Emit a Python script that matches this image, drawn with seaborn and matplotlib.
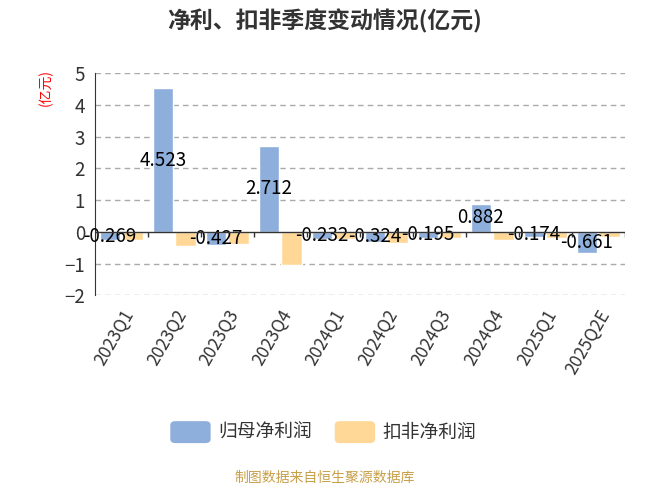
import matplotlib.pyplot as plt
import pandas as pd
import seaborn as sns
from matplotlib.patches import FancyBboxPatch

quarters = ["2023Q1", "2023Q2", "2023Q3", "2023Q4", "2024Q1",
            "2024Q2", "2024Q3", "2024Q4", "2025Q1", "2025Q2E"]
net_profit = [-0.269, 4.523, -0.427, 2.712, -0.232, -0.324, -0.195, 0.882, -0.174, -0.661]
deducted_profit = [-0.26, -0.44, -0.39, -1.04, -0.22, -0.34, -0.2, -0.26, -0.18, -0.16]
series_names = ["归母净利润", "扣非净利润"]
colors = ["#8eaedb", "#ffd898"]

df = pd.DataFrame({
    "季度": quarters * 2,
    "值": net_profit + deducted_profit,
    "类型": [series_names[0]] * len(quarters) + [series_names[1]] * len(quarters),
})

sns.set_style("white")
plt.rcParams["font.family"] = ["Noto Sans CJK SC", "DejaVu Sans"]

fig = plt.figure(figsize=(6.5, 4.88), dpi=100)
ax = fig.add_axes([0.146, 0.395, 0.815, 0.455])

sns.barplot(data=df, x="季度", y="值", hue="类型", palette=colors,
            width=0.85, gap=0.1, ax=ax, legend=False, saturation=1)

# labels at bar centres
for cont in ax.containers[:1]:
    for bar, v in zip(cont, net_profit):
        ax.text(bar.get_x() + bar.get_width() / 2, v / 2, f"{v:g}",
                ha="center", va="center", fontsize=13.5, color="black")

ax.set_ylim(-2, 5)
ax.set_xlim(-0.5, len(quarters) - 0.5)
ax.set_yticks(range(-2, 6))
for y in range(-2, 6):
    if y != 0:
        ax.axhline(y, color="#aaaaaa", lw=1, ls=(0, (4, 3)), zorder=0)
ax.axhline(0, color="#333333", lw=1, zorder=3)
ax.vlines([i + 0.5 for i in range(-1, len(quarters))], -0.15, 0,
          color="#333333", lw=1, zorder=3)

for s in ["top", "right", "bottom"]:
    ax.spines[s].set_visible(False)
ax.spines["left"].set_color("#333333")
ax.tick_params(axis="y", length=5, color="#333333", labelsize=13.5, labelcolor="#333333", pad=2)
ax.tick_params(axis="x", length=0, labelsize=12.5, labelcolor="#333333", pad=8)
plt.setp(ax.get_xticklabels(), rotation=60, ha="right", rotation_mode="anchor")
ax.set_xlabel("")
ax.set_ylabel("")

fig.text(0.07, 0.82, "(亿元)", color="red", fontsize=10, rotation=90, ha="center", va="center")
fig.text(0.5, 0.957, "净利、扣非季度变动情况(亿元)", fontsize=16.5, fontweight="bold",
         color="#333333", ha="center", va="center")
fig.text(0.5, 0.02, "制图数据来自恒生聚源数据库", fontsize=10, color="#c8a04a",
         ha="center", va="center")

# legend
for x0, name, c in zip([0.262, 0.515], series_names, colors):
    fig.patches.append(FancyBboxPatch((x0, 0.092), 0.062, 0.045,
                                      boxstyle="round,pad=0,rounding_size=0.008",
                                      transform=fig.transFigure, fc=c, ec="none"))
    fig.text(x0 + 0.074, 0.114, name, fontsize=13.5, color="#333333", va="center")

fig.savefig("out.png", dpi=100)
